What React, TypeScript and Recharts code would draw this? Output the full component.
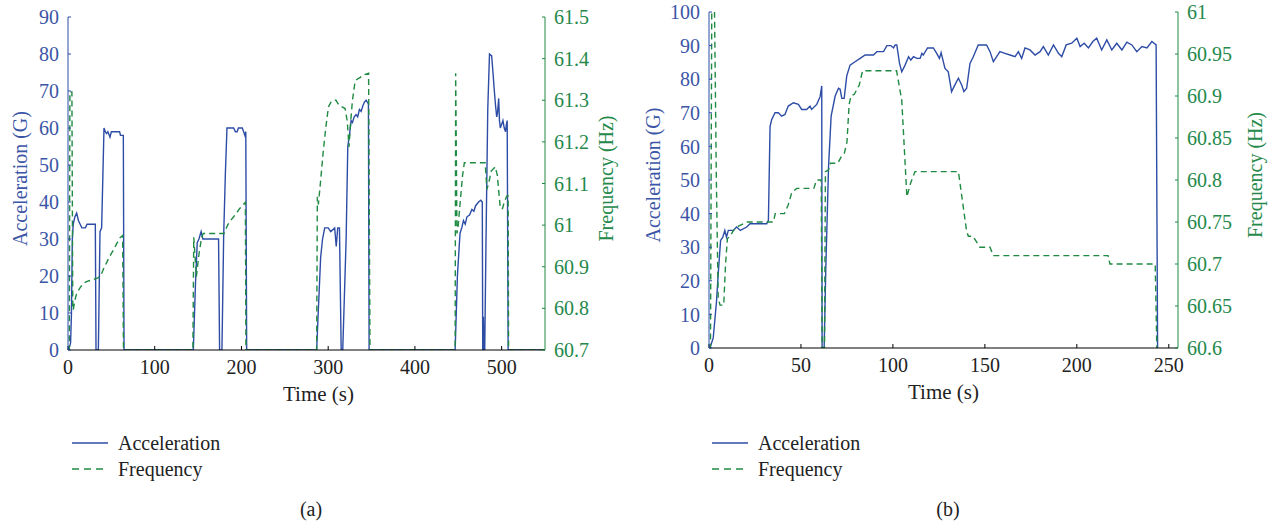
import React from 'react';
import { LineChart, Line, XAxis, YAxis, Legend, Label } from 'recharts';

const FONT = '"Liberation Serif", "Times New Roman", serif';
const BLUE = '#2d4ca6';
const GREEN = '#1f8a42';
const BLUE_TEXT = '#3b56a6';
const GREEN_TEXT = '#24894a';
const DARK = '#222222';

// ---------- Panel (a) ----------
const accATime = [
  0, 2, 3, 4, 5, 6, 8, 10, 12, 14, 16, 18, 20, 22, 26, 31.5, 32.3, 35, 36.9, 38.8, 41.5, 43, 44.5, 46, 48.4, 50, 55, 59.5, 60.5, 63.8, 64.6,
  144.5, 147, 149, 151, 153.5, 155.5, 157, 173.6, 174.8, 177.5, 179.5, 181.5, 183.3, 191, 193, 195, 196.5, 201, 202.5, 204, 205, 206,
  286.7, 288.5, 291.3, 293.5, 296, 300, 303, 307.5, 309.3, 311, 313, 315, 316.8, 320.7, 322.6, 324.5, 326.4, 328, 330, 332.2, 334, 336, 338, 340, 341.8, 343.7, 346.4, 347.2,
  446.4, 449, 452, 454, 456, 458, 460, 463, 465.7, 468, 470, 473.4, 476, 477.7, 478.2, 479, 479.6, 480.5, 482, 484, 486, 488.5, 490, 491.6, 493, 494.3, 495.2, 496.6, 497.5, 498.5, 500, 501.5, 503, 504.5, 505.5, 506.4, 507.5, 550,
];
const accAValue = [
  0, 1, 2, 10, 30, 34, 36, 37, 35, 34, 33, 33, 33, 34, 34, 34, 0, 0, 32, 33, 60, 59, 58.5, 59, 57.5, 59, 59, 59, 58, 58, 0,
  0, 18, 29, 30, 32, 30, 30, 30, 0, 0, 31, 48, 60, 60, 59, 59, 60, 60, 59, 58, 59, 0,
  0, 10, 25, 30, 33, 33, 32, 33, 28, 33, 33, 0, 0, 30, 55, 58, 62, 61.5, 63, 63.6, 63, 65, 64.5, 66, 67, 67.5, 66.5, 0,
  0, 20, 31.5, 33, 35, 34, 36, 36.5, 38, 37.5, 39, 40, 40.5, 40, 0, 9, 0, 0, 30, 65, 80, 79.5, 75, 70, 66, 63, 64, 68, 62, 60, 61, 62, 60, 59, 61, 62, 0, 0,
];
const freqATime = [
  0, 1.5, 2.2, 4.5, 5.5, 6, 8, 10, 14, 17.7, 22, 27, 33, 36, 38.8, 42, 44.6, 48, 52.3, 56, 60, 63, 64,
  144, 145, 146, 148, 151, 154, 156, 165, 175, 180, 184, 187, 191, 194.7, 198, 202.4, 204.5, 205.2,
  286.7, 287.5, 288.7, 291, 294, 297, 300.3, 303, 306, 309, 311.8, 315, 319.5, 322, 324, 326, 328, 331, 333, 337, 340, 346.6, 348.2,
  446.4, 447, 448.5, 450, 452, 455, 457, 470, 481, 483, 485, 488, 492.7, 495, 498.5, 501, 503, 506, 507.5, 508, 550,
];
const freqAValue = [
  60.7, 60.7, 61.32, 61.32, 60.8, 60.796, 60.82, 60.836, 60.85, 60.86, 60.865, 60.868, 60.872, 60.875, 60.884, 60.9, 60.91, 60.925, 60.94, 60.955, 60.97, 60.975, 60.7,
  60.7, 60.971, 60.94, 60.876, 60.93, 60.97, 60.98, 60.98, 60.98, 60.98, 61.0, 61.01, 61.02, 61.03, 61.04, 61.05, 61.055, 60.7,
  60.7, 61.068, 61.05, 61.1, 61.17, 61.23, 61.284, 61.295, 61.3, 61.3, 61.29, 61.285, 61.28, 61.25, 61.188, 61.25, 61.3, 61.345, 61.35, 61.355, 61.36, 61.365, 60.7,
  60.7, 61.365, 60.98, 61.0, 61.05, 61.12, 61.15, 61.15, 61.15, 61.086, 61.1, 61.13, 61.14, 61.12, 61.04, 61.04, 61.055, 61.07, 61.07, 60.7, 60.7,
];
const timeTicksA = [0, 100, 200, 300, 400, 500];
const accTicksA = [0, 10, 20, 30, 40, 50, 60, 70, 80, 90];
const freqTicksA = [60.7, 60.8, 60.9, 61.0, 61.1, 61.2, 61.3, 61.4, 61.5];

// ---------- Panel (b) ----------
const accBTime = [
  0, 0.5, 2.3, 4.1, 5, 6.3, 7.5, 8.6, 9.5, 10.5, 13.2, 15, 17, 20.5, 22.3, 31.4, 32.3, 33.2, 34.1, 35.9, 37.7, 39.5, 41.3, 43.1, 45.9, 48.6, 50.4, 53.1, 54.9, 55.8, 58.6, 60.4, 61.3, 61.5,
  62.6, 63.5, 65, 66.4, 68.6, 70.4, 71.3, 72.2, 73.5, 74.9, 76.7, 79.4, 82.2, 84.9, 89.4, 91.3, 94.9, 96.7, 98.9, 100.3, 101.2, 102.1, 103.6, 104.8, 106.6, 108.5, 109.7, 111.2, 113, 114.8, 115.7, 116.5, 118.8, 122, 123.8, 125.3, 126.2, 128.3, 130.1, 131.9, 133.7, 135.6, 137.4, 138.6, 140.1, 141.9, 143.7, 146.4, 150.9, 152.8, 154.6, 156.4, 158.2, 160.9, 163.7, 166.4, 168.2, 170, 171.8, 174.5, 177.3, 180, 181.8, 184.5, 187.3, 190, 191.8, 194.2, 197.2, 200, 201.8, 204, 206.3, 208.7, 210.8, 213.5, 216.3, 219, 221.7, 224.5, 227.2, 229.9, 232.6, 235.4, 238.1, 240.8, 243.1, 243.9,
];
const accBValue = [
  0, 0, 3, 14, 22, 32, 33, 35, 33, 35, 35, 36, 35, 36, 37, 37, 38, 66, 68, 70, 70, 69, 69.5, 72, 73, 72.5, 71, 71, 72, 71, 72.5, 74.8, 78, 0,
  0, 23.6, 54, 69, 75, 77.3, 77, 74.3, 74.3, 81, 84.2, 85.2, 86.2, 87.2, 87.2, 88.2, 88.2, 90, 90, 89.3, 90.2, 90.2, 84.7, 82.2, 84.2, 86.7, 85.7, 86.7, 86.2, 86.2, 87.7, 87.2, 89.3, 89.3, 87.7, 86.2, 87.9, 83.2, 82.2, 76.3, 78.3, 80.3, 78.3, 76.3, 77.3, 84.7, 86.7, 90.2, 90.2, 88.2, 85.2, 86.7, 88.2, 87.7, 87.2, 86.7, 88.2, 86.2, 89.3, 88.7, 87.2, 88.2, 89.7, 87.2, 90.2, 87.7, 86.7, 90.2, 90.7, 92.2, 89.7, 90.7, 89.3, 91.2, 92.2, 88.7, 91.7, 88.7, 90.7, 88.7, 91, 90.2, 88.2, 89.7, 89.3, 91.2, 90.2, 0,
];
const freqBTime = [
  0, 0.8, 1.5, 3, 4, 5, 6, 8, 9, 10, 12, 13.3, 16, 20.5, 35, 36, 41, 43, 45, 47.7, 57, 58.5, 61, 61.5, 62.8, 63.3, 65, 66, 70, 72, 73.6, 75, 76.2, 77.2, 79, 81.7, 83.5,
  102, 104.8, 107.6, 109.4, 112, 135.6, 140, 141, 143.5, 147.3, 152.8, 154.5, 217, 218, 242.6, 243.5,
];
const freqBValue = [
  60.6, 60.6, 61.0, 61.0, 60.8, 60.66, 60.651, 60.651, 60.7, 60.73, 60.735, 60.74, 60.745, 60.75, 60.75, 60.76, 60.76, 60.77, 60.785, 60.79, 60.79, 60.8, 60.8, 60.6, 60.6, 60.81, 60.812, 60.82, 60.82, 60.828, 60.832, 60.845, 60.89, 60.9, 60.902, 60.913, 60.93,
  60.93, 60.895, 60.78, 60.795, 60.81, 60.81, 60.74, 60.733, 60.733, 60.72, 60.72, 60.71, 60.71, 60.7, 60.7, 60.6,
];
const timeTicksB = [0, 50, 100, 150, 200, 250];
const accTicksB = [0, 10, 20, 30, 40, 50, 60, 70, 80, 90, 100];
const freqTicksB = [60.6, 60.65, 60.7, 60.75, 60.8, 60.85, 60.9, 60.95, 61.0];

const zip = (ts: number[], vs: number[]) => ts.map((t, i) => ({ t, v: vs[i] }));
const fmt = (v: number) => String(Math.round(v * 100) / 100);

const H = 523;

const LegendContent = () => (
  <div style={{ fontFamily: FONT, fontSize: 20, color: DARK, lineHeight: '26px' }}>
    <div style={{ display: 'flex', alignItems: 'center', height: 26 }}>
      <svg width={36} height={6}><line x1={0} y1={3} x2={36} y2={3} stroke={BLUE} strokeWidth={1.5} /></svg>
      <span style={{ marginLeft: 10 }}>Acceleration</span>
    </div>
    <div style={{ display: 'flex', alignItems: 'center', height: 26 }}>
      <svg width={36} height={6}><line x1={0} y1={3} x2={36} y2={3} stroke={GREEN} strokeWidth={1.5} strokeDasharray="7 5" /></svg>
      <span style={{ marginLeft: 10 }}>Frequency</span>
    </div>
  </div>
);

type PanelProps = {
  left: number; width: number; plotLeft: number; plotRight: number; plotTop: number; plotBottom: number;
  xDomain: [number, number]; xTicks: number[]; accDomain: [number, number]; accTicks: number[];
  freqDomain: [number, number]; freqTicks: number[];
  accData: { t: number; v: number }[]; freqData: { t: number; v: number }[];
  caption: string; captionX: number; leftLabelX: number; rightLabelX: number; timeLabelDx: number;
};

function Panel(p: PanelProps) {
  const xAxisH = 60;
  const rightW = p.width - p.plotRight;
  return (
    <div style={{ position: 'absolute', left: p.left, top: 0, width: p.width, height: H }}>
      <LineChart width={p.width} height={H} margin={{ top: p.plotTop, left: 0, right: 0, bottom: H - p.plotBottom - xAxisH }}>
        <XAxis type="number" dataKey="t" domain={p.xDomain} ticks={p.xTicks} interval={0} allowDataOverflow
          stroke="#000" tickSize={-4} tickMargin={14} height={xAxisH}
          tick={{ fill: DARK, fontSize: 20, fontFamily: FONT }}>
          <Label content={(lp: any) => {
            const vb = lp.viewBox;
            return <text x={vb.x + vb.width / 2 + p.timeLabelDx} y={vb.y + 51} textAnchor="middle" fill={DARK} fontSize={21} fontFamily={FONT}>Time (s)</text>;
          }} />
        </XAxis>
        <YAxis yAxisId="acc" orientation="left" width={p.plotLeft} type="number" domain={p.accDomain} ticks={p.accTicks} interval={0}
          allowDataOverflow stroke={BLUE} tickSize={-3} tickMargin={12}
          tick={{ fill: BLUE_TEXT, fontSize: 20, fontFamily: FONT }}>
          <Label content={(lp: any) => {
            const vb = lp.viewBox;
            const cx = p.leftLabelX; const cy = vb.y + vb.height / 2 - 5;
            return <text x={cx} y={cy} transform={`rotate(-90 ${cx} ${cy})`} textAnchor="middle" dominantBaseline="central" fill={BLUE_TEXT} fontSize={20} fontFamily={FONT}>Acceleration (G)</text>;
          }} />
        </YAxis>
        <YAxis yAxisId="freq" orientation="right" width={rightW} type="number" domain={p.freqDomain} ticks={p.freqTicks} interval={0}
          allowDataOverflow stroke={GREEN} tickSize={-3} tickMargin={12} tickFormatter={fmt}
          tick={{ fill: GREEN_TEXT, fontSize: 20, fontFamily: FONT }}>
          <Label content={(lp: any) => {
            const vb = lp.viewBox;
            const cx = p.rightLabelX; const cy = vb.y + vb.height / 2 - 5;
            return <text x={cx} y={cy} transform={`rotate(-90 ${cx} ${cy})`} textAnchor="middle" dominantBaseline="central" fill={GREEN_TEXT} fontSize={20} fontFamily={FONT}>Frequency (Hz)</text>;
          }} />
        </YAxis>
        <Line yAxisId="acc" data={p.accData} dataKey="v" type="linear" stroke={BLUE} strokeWidth={1.4} dot={false} activeDot={false} isAnimationActive={false} />
        <Line yAxisId="freq" data={p.freqData} dataKey="v" type="linear" stroke={GREEN} strokeWidth={1.4} strokeDasharray="6 4" dot={false} activeDot={false} isAnimationActive={false} />
        <Legend layout="horizontal" verticalAlign="middle" align="center" wrapperStyle={{ left: 72, top: 430, width: 240, height: 52 }} content={() => <LegendContent />} />
      </LineChart>
      <div style={{ position: 'absolute', left: p.captionX, top: 496, transform: 'translateX(-50%)', fontFamily: FONT, fontSize: 20, color: DARK, lineHeight: '26px' }}>{p.caption}</div>
    </div>
  );
}

export default function App() {
  return (
    <div style={{ position: 'absolute', left: 0, top: 0, width: 1269, height: H, background: '#fff', overflow: 'hidden' }}>
      <Panel left={0} width={630} plotLeft={68} plotRight={545} plotTop={17} plotBottom={350}
        xDomain={[0, 550]} xTicks={timeTicksA} accDomain={[0, 90]} accTicks={accTicksA}
        freqDomain={[60.7, 61.5]} freqTicks={freqTicksA}
        accData={zip(accATime, accAValue)} freqData={zip(freqATime, freqAValue)}
        caption="(a)" captionX={311} leftLabelX={20} rightLabelX={606} timeLabelDx={12} />
      <Panel left={640} width={629} plotLeft={69} plotRight={538} plotTop={12} plotBottom={348}
        xDomain={[0, 255]} xTicks={timeTicksB} accDomain={[0, 100]} accTicks={accTicksB}
        freqDomain={[60.6, 61.0]} freqTicks={freqTicksB}
        accData={zip(accBTime, accBValue)} freqData={zip(freqBTime, freqBValue)}
        caption="(b)" captionX={308} leftLabelX={13} rightLabelX={615} timeLabelDx={0} />
    </div>
  );
}
